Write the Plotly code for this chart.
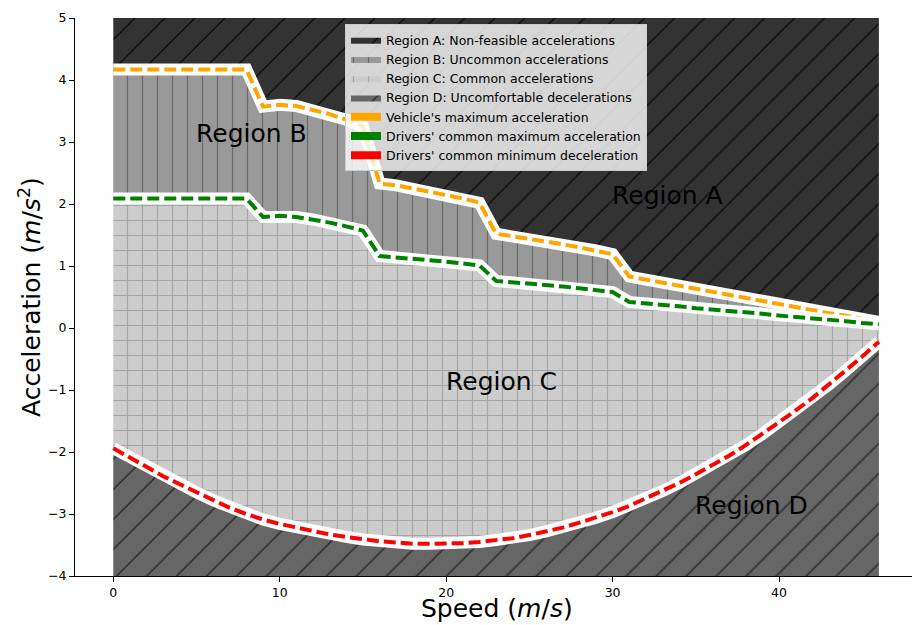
import plotly.graph_objects as go

# ---------------- data ----------------
speed = list(range(0, 47))  # m/s

vehicle_max = [4.17, 4.17, 4.17, 4.17, 4.17, 4.17, 4.17, 4.17, 4.17,
               3.57, 3.60, 3.58, 3.52, 3.45, 3.36, 3.25,
               2.33, 2.30, 2.25, 2.20, 2.15, 2.09, 2.02,
               1.52, 1.48, 1.44, 1.39, 1.35, 1.30, 1.25, 1.19,
               0.83, 0.78, 0.73, 0.68, 0.63, 0.58, 0.53, 0.48, 0.44,
               0.39, 0.34, 0.29, 0.24, 0.20, 0.15, 0.10]

driver_max = [2.09, 2.09, 2.09, 2.09, 2.09, 2.09, 2.09, 2.09, 2.09,
              1.79, 1.81, 1.79, 1.75, 1.70, 1.64, 1.57,
              1.16, 1.14, 1.12, 1.10, 1.07, 1.04, 1.01,
              0.76, 0.74, 0.71, 0.69, 0.67, 0.64, 0.61, 0.58,
              0.42, 0.40, 0.37, 0.35, 0.32, 0.30, 0.28, 0.25, 0.23,
              0.20, 0.18, 0.16, 0.13, 0.11, 0.08, 0.06]

driver_min = [-1.94, -2.09, -2.24, -2.39, -2.52, -2.65, -2.78, -2.90, -3.00, -3.09,
              -3.16, -3.22, -3.28, -3.33, -3.37, -3.41, -3.44, -3.46, -3.48, -3.48,
              -3.48, -3.47, -3.45, -3.42, -3.39, -3.34, -3.28, -3.22, -3.14, -3.06,
              -2.97, -2.87, -2.75, -2.63, -2.50, -2.36, -2.21, -2.06, -1.89, -1.71,
              -1.52, -1.33, -1.13, -0.91, -0.69, -0.46, -0.22]

acc_top = [5] * len(speed)
acc_bottom = [-4] * len(speed)

region_names = ["Region A: Non-feasible accelerations",
                "Region B: Uncommon accelerations",
                "Region C: Common accelerations",
                "Region D: Uncomfortable decelerations"]
line_names = ["Vehicle's maximum acceleration",
              "Drivers' common maximum acceleration",
              "Drivers' common minimum deceleration"]

x_ticks = [0, 10, 20, 30, 40]
y_ticks = [-4, -3, -2, -1, 0, 1, 2, 3, 4, 5]
y_ticktext = ["\u22124", "\u22123", "\u22122", "\u22121", "0", "1", "2", "3", "4", "5"]

# ---------------- figure ----------------
fig = go.Figure()
FONT = "DejaVu Sans"


def add_region(upper, lower, name, bg, fg, shape, size, solidity, rank):
    fig.add_trace(go.Scatter(
        x=speed + speed[::-1],
        y=upper + lower[::-1],
        fill="toself",
        mode="lines",
        line=dict(width=0, color=fg),
        fillcolor=bg,
        fillpattern=dict(shape=shape, bgcolor=bg, fgcolor=fg, size=size,
                         solidity=solidity, fillmode="replace"),
        name=name,
        legendrank=rank,
        hoverinfo="skip",
    ))


add_region(acc_top, vehicle_max, region_names[0], "rgb(51,51,51)", "rgb(10,10,10)", "/", 21.2, 0.06, 1)
add_region(vehicle_max, driver_max, region_names[1], "rgb(153,153,153)", "rgb(105,105,105)", "|", 15, 0.08, 2)
add_region(driver_max, driver_min, region_names[2], "rgb(204,204,204)", "rgb(165,165,165)", "+", 15, 0.15, 3)
add_region(driver_min, acc_bottom, region_names[3], "rgb(102,102,102)", "rgb(35,35,35)", "/", 21.2, 0.06, 4)

for ys, color, name, rank in [(vehicle_max, "orange", line_names[0], 5),
                              (driver_max, "green", line_names[1], 6),
                              (driver_min, "red", line_names[2], 7)]:
    fig.add_trace(go.Scatter(x=speed, y=ys, mode="lines",
                             line=dict(color="white", width=12),
                             showlegend=False, hoverinfo="skip"))
    fig.add_trace(go.Scatter(x=speed, y=ys, mode="lines",
                             line=dict(color=color, width=4, dash="12px,5px"),
                             showlegend=False, hoverinfo="skip"))
    fig.add_trace(go.Scatter(x=[None], y=[None], mode="lines",
                             line=dict(color=color, width=8),
                             name=name, legendrank=rank))

lab_font = dict(size=25, family=FONT, color="black")
annotations = [
    dict(x=29.85, y=2.14, xref="x", yref="y", text="Region A", showarrow=False,
         xanchor="left", yanchor="middle", font=lab_font),
    dict(x=4.85, y=3.14, xref="x", yref="y", text="Region B", showarrow=False,
         xanchor="left", yanchor="middle", font=lab_font),
    dict(x=19.85, y=-0.86, xref="x", yref="y", text="Region C", showarrow=False,
         xanchor="left", yanchor="middle", font=lab_font),
    dict(x=34.85, y=-2.86, xref="x", yref="y", text="Region D", showarrow=False,
         xanchor="left", yanchor="middle", font=lab_font),
    dict(x=0.504, y=-0.0591, xref="paper", yref="paper", text="Speed (<i>m</i>/<i>s</i>)",
         showarrow=False, xanchor="center", yanchor="middle", font=lab_font),
    dict(x=-0.0538, y=0.5, xref="paper", yref="paper",
         text="Acceleration (<i>m</i>/<i>s</i><sup>2</sup>)", textangle=-90,
         showarrow=False, xanchor="center", yanchor="middle", font=lab_font),
]

fig.update_layout(
    width=912, height=625,
    margin=dict(l=75, r=0, t=18, b=49),
    paper_bgcolor="white", plot_bgcolor="white",
    font=dict(family=FONT, size=12.5, color="black"),
    showlegend=True,
    legend=dict(x=0.3226, y=0.989, xanchor="left", yanchor="top",
                bgcolor="rgba(255,255,255,0.8)", bordercolor="rgb(204,204,204)",
                borderwidth=1, font=dict(size=12.5, family=FONT, color="black"),
                traceorder="normal", itemwidth=30),
    annotations=annotations,
    xaxis=dict(range=[-2.3, 47.99], showline=True, linecolor="black", linewidth=1,
               mirror=False, ticks="outside", ticklen=5, tickwidth=1, tickcolor="black",
               tickvals=x_ticks, showgrid=False, zeroline=False,
               tickfont=dict(size=12.5, family=FONT, color="black")),
    yaxis=dict(range=[-4, 5], showline=True, linecolor="black", linewidth=1,
               ticks="outside", ticklen=5, tickwidth=1, tickcolor="black",
               tickvals=y_ticks, ticktext=y_ticktext, showgrid=False, zeroline=False,
               tickfont=dict(size=12.5, family=FONT, color="black")),
)

fig.write_html("out.html",
               config={"displayModeBar": False, "staticPlot": True},
               post_script="document.body.style.margin='0';document.body.style.overflow='hidden';")
